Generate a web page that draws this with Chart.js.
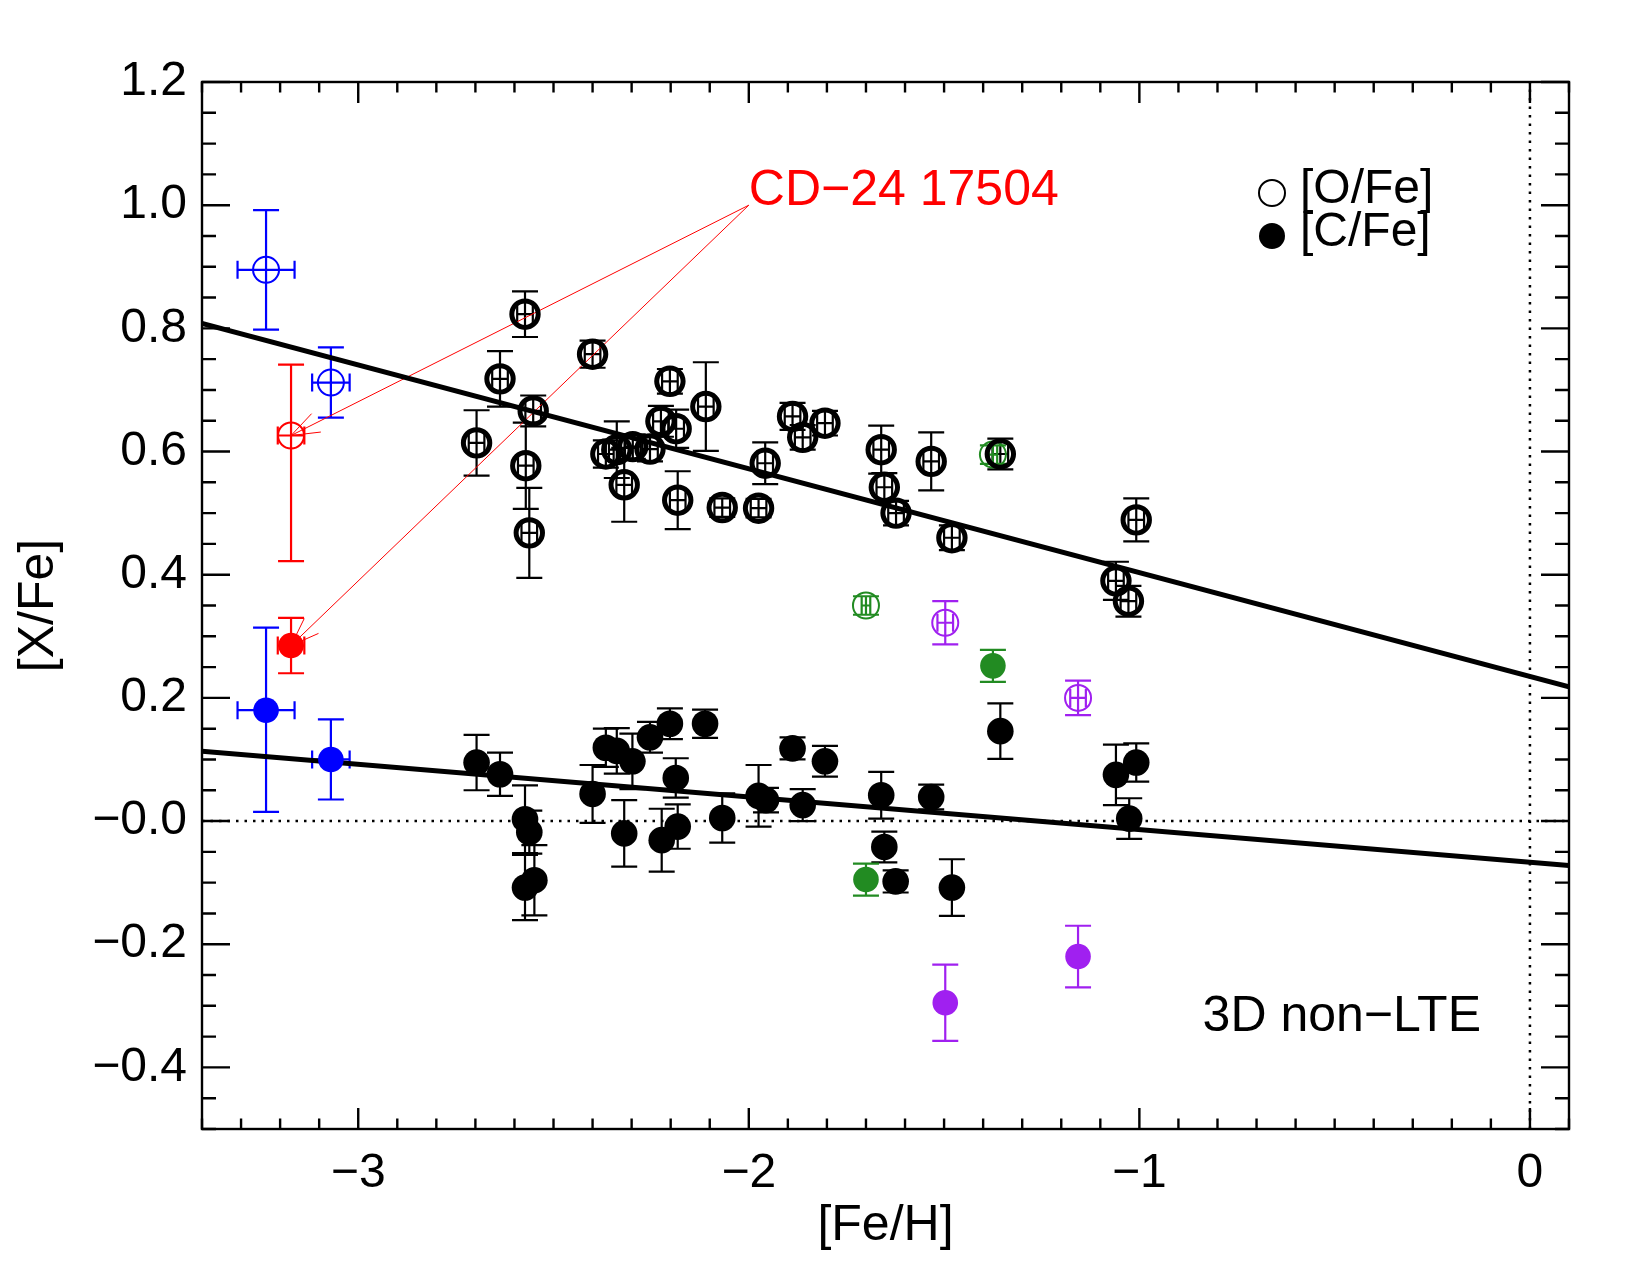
<!DOCTYPE html>
<html>
<head>
<meta charset="utf-8">
<title>[X/Fe] vs [Fe/H] - 3D non-LTE</title>
<script src="https://cdn.jsdelivr.net/npm/chart.js@4.4.1/dist/chart.umd.min.js"></script>
<style>
  html, body { margin: 0; padding: 0; background: #fff; }
  canvas { display: block; }
</style>
</head>
<body>
<canvas id="abundanceChart" width="1650" height="1275"></canvas>
<script>
const FONT = "'Liberation Sans', Arial, Helvetica, sans-serif";

// axes
const xRange = [-3.4, 0.1];
const yRange = [-0.5, 1.2];
const xTickVals = [-3, -2, -1, 0];
const xTickLabels = ["−3", "−2", "−1", "0"];
const yTickVals = [-0.4, -0.2, 0, 0.2, 0.4, 0.6, 0.8, 1.0, 1.2];
const yTickLabels = ["−0.4", "−0.2", "−0.0", "0.2", "0.4", "0.6", "0.8", "1.0", "1.2"];

// main sample: [O/Fe]
const oFeH = [-2.697, -2.637, -2.573, -2.571, -2.562, -2.552, -2.400, -2.366, -2.338, -2.319, -2.297,
              -2.253, -2.225, -2.202, -2.186, -2.182, -2.110, -2.068, -1.975, -1.958, -1.888, -1.862,
              -1.805, -1.661, -1.653, -1.623, -1.533, -1.480, -1.356, -1.060, -1.028, -1.008];
const oFe  = [0.614, 0.718, 0.823, 0.577, 0.468, 0.666, 0.758, 0.596, 0.603, 0.546, 0.608,
              0.604, 0.649, 0.714, 0.637, 0.521, 0.673, 0.509, 0.508, 0.581, 0.657, 0.623,
              0.646, 0.603, 0.542, 0.500, 0.584, 0.460, 0.596, 0.390, 0.357, 0.489];
const oErr = [0.053, 0.045, 0.037, 0.070, 0.073, 0.025, 0.022, 0.022, 0.046, 0.060, 0.020,
              0.020, 0.025, 0.020, 0.031, 0.047, 0.072, 0.015, 0.015, 0.034, 0.022, 0.020,
              0.020, 0.039, 0.023, 0.020, 0.047, 0.020, 0.025, 0.031, 0.025, 0.035];

// main sample: [C/Fe]
const cFeH = [-2.697, -2.637, -2.573, -2.573, -2.562, -2.549, -2.400, -2.366, -2.338, -2.319, -2.298,
              -2.253, -2.223, -2.202, -2.187, -2.182, -2.112, -2.068, -1.975, -1.956, -1.888, -1.862,
              -1.805, -1.661, -1.653, -1.624, -1.533, -1.480, -1.356, -1.060, -1.026, -1.008];
const cFe  = [0.095, 0.076, 0.003, -0.108, -0.018, -0.096, 0.044, 0.119, 0.114, -0.020, 0.097,
              0.136, -0.031, 0.158, 0.070, -0.009, 0.158, 0.005, 0.041, 0.034, 0.118, 0.026,
              0.097, 0.042, -0.042, -0.098, 0.039, -0.108, 0.146, 0.075, 0.004, 0.095];
const cErr = [0.045, 0.035, 0.055, 0.053, 0.035, 0.057, 0.047, 0.031, 0.037, 0.054, 0.045,
              0.025, 0.051, 0.025, 0.032, 0.036, 0.023, 0.040, 0.050, 0.020, 0.018, 0.026,
              0.025, 0.038, 0.025, 0.018, 0.020, 0.046, 0.045, 0.049, 0.033, 0.031];
const mainFeHErr = 0.02;

// blue stars
const blueFeH = [-3.236, -3.070];
const blueFeHErr = [0.073, 0.048];
const blueO = [0.895, 0.712];
const blueOErr = [0.097, 0.057];
const blueC = [0.180, 0.100];
const blueCErrLo = [0.165, 0.065];
const blueCErrHi = [0.134, 0.065];

// CD-24 17504 (red)
const starName = "CD−24 17504";
const redFeH = [-3.172];
const redFeHErr = [0.034];
const redO = [0.626];
const redOErrLo = [0.204];
const redOErrHi = [0.115];
const redC = [0.285];
const redCErr = [0.045];
const starLabelAt = [-2.0, 1.0];

// green stars
const greenFeH = [-1.700, -1.375];
const greenFeHErr = [0.011, 0.011];
const greenO = [0.350, 0.595];
const greenOErr = [0.015, 0.015];
const greenC = [-0.095, 0.252];
const greenCErr = [0.026, 0.026];

// purple stars
const purpleFeH = [-1.497, -1.157];
const purpleFeHErr = [0.02, 0.02];
const purpleO = [0.322, 0.200];
const purpleOErr = [0.035, 0.028];
const purpleC = [-0.295, -0.220];
const purpleCErr = [0.062, 0.050];

// linear fits
const fitFeH = [-3.4, 0.1];
const fitO = [0.808, 0.218];
const fitC = [0.1135, -0.072];

function points(feh, fehErr, val, errLo, errHi) {
    return feh.map((x, i) => {
        const ex = Array.isArray(fehErr) ? fehErr[i] : fehErr;
        const lo = errLo[i];
        const hi = errHi ? errHi[i] : errLo[i];
        return { x: x, y: val[i], xMin: x - ex, xMax: x + ex, yMin: val[i] - lo, yMax: val[i] + hi };
    });
}

function linePoints(xs, ys) {
    return xs.map((x, i) => ({ x: x, y: ys[i] }));
}

const errorBars = {
    id: "errorBars",
    beforeDatasetsDraw(chart) {
        const { ctx, scales: { x, y } } = chart;
        chart.data.datasets.forEach((ds) => {
            if (!ds.errColor) return;
            ctx.save();
            ctx.strokeStyle = ds.errColor;
            ctx.lineWidth = ds.errWidth;
            const capY = 13, capX = 9;
            ds.data.forEach((p) => {
                const px = x.getPixelForValue(p.x), py = y.getPixelForValue(p.y);
                const y0 = y.getPixelForValue(p.yMin), y1 = y.getPixelForValue(p.yMax);
                const x0 = x.getPixelForValue(p.xMin), x1 = x.getPixelForValue(p.xMax);
                ctx.beginPath();
                ctx.moveTo(px, y0); ctx.lineTo(px, y1);
                ctx.moveTo(px - capY, y0); ctx.lineTo(px + capY, y0);
                ctx.moveTo(px - capY, y1); ctx.lineTo(px + capY, y1);
                ctx.moveTo(x0, py); ctx.lineTo(x1, py);
                ctx.moveTo(x0, py - capX); ctx.lineTo(x0, py + capX);
                ctx.moveTo(x1, py - capX); ctx.lineTo(x1, py + capX);
                ctx.stroke();
            });
            ctx.restore();
        });
    }
};

// thin red arrows from the star label to its two points
const starArrows = {
    id: "starArrows",
    beforeDatasetsDraw(chart) {
        const { ctx, scales: { x, y } } = chart;
        const ax = x.getPixelForValue(starLabelAt[0]), ay = y.getPixelForValue(starLabelAt[1]);
        ctx.save();
        ctx.strokeStyle = "#ff0000";
        ctx.lineWidth = 1;
        [redO[0], redC[0]].forEach((v) => {
            const tx = x.getPixelForValue(redFeH[0]), ty = y.getPixelForValue(v);
            const ang = Math.atan2(ay - ty, ax - tx);
            const head = 30, spread = 0.35;
            ctx.beginPath();
            ctx.moveTo(ax, ay); ctx.lineTo(tx, ty);
            ctx.moveTo(tx, ty); ctx.lineTo(tx + head * Math.cos(ang + spread), ty + head * Math.sin(ang + spread));
            ctx.moveTo(tx, ty); ctx.lineTo(tx + head * Math.cos(ang - spread), ty + head * Math.sin(ang - spread));
            ctx.stroke();
        });
        ctx.restore();
    }
};

// box with inward ticks on all four sides
const frameTicks = {
    id: "frameTicks",
    afterDatasetsDraw(chart) {
        const { ctx, chartArea: a, scales: { x, y } } = chart;
        ctx.save();
        ctx.strokeStyle = "#000";
        ctx.lineWidth = 2.4;
        ctx.strokeRect(a.left, a.top, a.right - a.left, a.bottom - a.top);
        ctx.beginPath();
        for (let k = Math.ceil(xRange[0] * 10 - 1e-6); k <= Math.floor(xRange[1] * 10 + 1e-6); k++) {
            const px = x.getPixelForValue(k / 10);
            const len = k % 10 === 0 ? 21 : 10.5;
            ctx.moveTo(px, a.bottom); ctx.lineTo(px, a.bottom - len);
            ctx.moveTo(px, a.top); ctx.lineTo(px, a.top + len);
        }
        for (let k = Math.ceil(yRange[0] * 20 - 1e-6); k <= Math.floor(yRange[1] * 20 + 1e-6); k++) {
            const py = y.getPixelForValue(k / 20);
            const len = k % 4 === 0 ? 28 : 14;
            ctx.moveTo(a.left, py); ctx.lineTo(a.left + len, py);
            ctx.moveTo(a.right, py); ctx.lineTo(a.right - len, py);
        }
        ctx.stroke();
        ctx.restore();
    }
};

const annotations = {
    id: "annotations",
    afterDatasetsDraw(chart) {
        const { ctx, chartArea: a, scales: { x, y } } = chart;
        ctx.save();
        ctx.font = "50px " + FONT;
        ctx.textBaseline = "alphabetic";

        ctx.fillStyle = "#ff0000";
        ctx.textAlign = "left";
        ctx.fillText(starName, x.getPixelForValue(starLabelAt[0]), y.getPixelForValue(starLabelAt[1]));

        ctx.fillStyle = "#000";
        ctx.textAlign = "right";
        ctx.fillText("3D non−LTE", a.right - 88, a.bottom - 98);

        // legend
        const lx = a.right - 297;
        ctx.lineWidth = 2;
        ctx.strokeStyle = "#000";
        ctx.beginPath();
        ctx.arc(lx, a.top + 111, 13, 0, Math.PI * 2);
        ctx.stroke();
        ctx.beginPath();
        ctx.arc(lx, a.top + 154, 13, 0, Math.PI * 2);
        ctx.fill();
        ctx.font = "48px " + FONT;
        ctx.textAlign = "left";
        ctx.fillText("[O/Fe]", lx + 28, a.top + 121);
        ctx.fillText("[C/Fe]", lx + 28, a.top + 164);
        ctx.restore();
    }
};

function openSet(label, color, data, width, radius) {
    return {
        label: label, data: data, order: 2,
        pointStyle: "circle", pointRadius: radius, pointBorderWidth: width,
        pointBorderColor: color, pointBackgroundColor: "rgba(0,0,0,0)",
        errColor: color, errWidth: 2.2
    };
}

function filledSet(label, color, data, radius) {
    return {
        label: label, data: data, order: 1,
        pointStyle: "circle", pointRadius: radius, pointBorderWidth: 0,
        pointBorderColor: color, pointBackgroundColor: color,
        errColor: color, errWidth: 2.2
    };
}

function lineSet(label, data, width, dash) {
    return {
        label: label, data: data, order: 5, showLine: true,
        borderColor: "#000", borderWidth: width, borderDash: dash,
        borderCapStyle: "butt", pointRadius: 0, fill: false
    };
}

const datasets = [
    filledSet("[C/Fe]", "#000000", points(cFeH, mainFeHErr, cFe, cErr), 13.3),
    openSet("[O/Fe]", "#000000", points(oFeH, mainFeHErr, oFe, oErr), 5, 13.2),
    filledSet("blue [C/Fe]", "#0000ff", points(blueFeH, blueFeHErr, blueC, blueCErrLo, blueCErrHi), 12.8),
    openSet("blue [O/Fe]", "#0000ff", points(blueFeH, blueFeHErr, blueO, blueOErr), 2, 13),
    filledSet("red [C/Fe]", "#ff0000", points(redFeH, redFeHErr, redC, redCErr), 12.8),
    openSet("red [O/Fe]", "#ff0000", points(redFeH, redFeHErr, redO, redOErrLo, redOErrHi), 2, 13),
    filledSet("green [C/Fe]", "#228b22", points(greenFeH, greenFeHErr, greenC, greenCErr), 12.8),
    openSet("green [O/Fe]", "#228b22", points(greenFeH, greenFeHErr, greenO, greenOErr), 2, 13),
    filledSet("purple [C/Fe]", "#a020f0", points(purpleFeH, purpleFeHErr, purpleC, purpleCErr), 12.8),
    openSet("purple [O/Fe]", "#a020f0", points(purpleFeH, purpleFeHErr, purpleO, purpleOErr), 2, 13),
    lineSet("fit O", linePoints(fitFeH, fitO), 5, []),
    lineSet("fit C", linePoints(fitFeH, fitC), 5, []),
    lineSet("zero", linePoints(xRange, [0, 0]), 2.5, [2.5, 6]),
    lineSet("solar", linePoints([0, 0], yRange), 2.5, [2.5, 6])
];

new Chart(document.getElementById("abundanceChart").getContext("2d"), {
    type: "scatter",
    data: { datasets: datasets },
    plugins: [errorBars, starArrows, frameTicks, annotations],
    options: {
        responsive: false,
        animation: false,
        devicePixelRatio: 1,
        events: [],
        layout: { padding: { left: 0, right: 81, top: 82, bottom: 0 } },
        plugins: { legend: { display: false }, tooltip: { enabled: false } },
        scales: {
            x: {
                type: "linear", min: xRange[0], max: xRange[1],
                grid: { display: false, drawTicks: false },
                border: { display: false },
                afterBuildTicks: (axis) => { axis.ticks = xTickVals.map((v) => ({ value: v })); },
                afterFit: (axis) => { axis.height = 146; },
                ticks: {
                    font: { family: FONT, size: 48 }, color: "#000", padding: 16,
                    maxRotation: 0, autoSkip: false,
                    callback: (v, i) => xTickLabels[i]
                },
                title: {
                    display: true, text: "[Fe/H]", color: "#000",
                    font: { family: FONT, size: 50 }, padding: { top: 0, bottom: 19 }
                }
            },
            y: {
                type: "linear", min: yRange[0], max: yRange[1],
                grid: { display: false, drawTicks: false },
                border: { display: false },
                afterBuildTicks: (axis) => { axis.ticks = yTickVals.map((v) => ({ value: v })); },
                afterFit: (axis) => { axis.width = 202; },
                ticks: {
                    font: { family: FONT, size: 48 }, color: "#000", padding: 15,
                    autoSkip: false,
                    callback: (v, i) => yTickLabels[i]
                },
                title: {
                    display: true, text: "[X/Fe]", color: "#000",
                    font: { family: FONT, size: 50 }, padding: { top: 9, bottom: 0 }
                }
            }
        }
    }
});
</script>
</body>
</html>
